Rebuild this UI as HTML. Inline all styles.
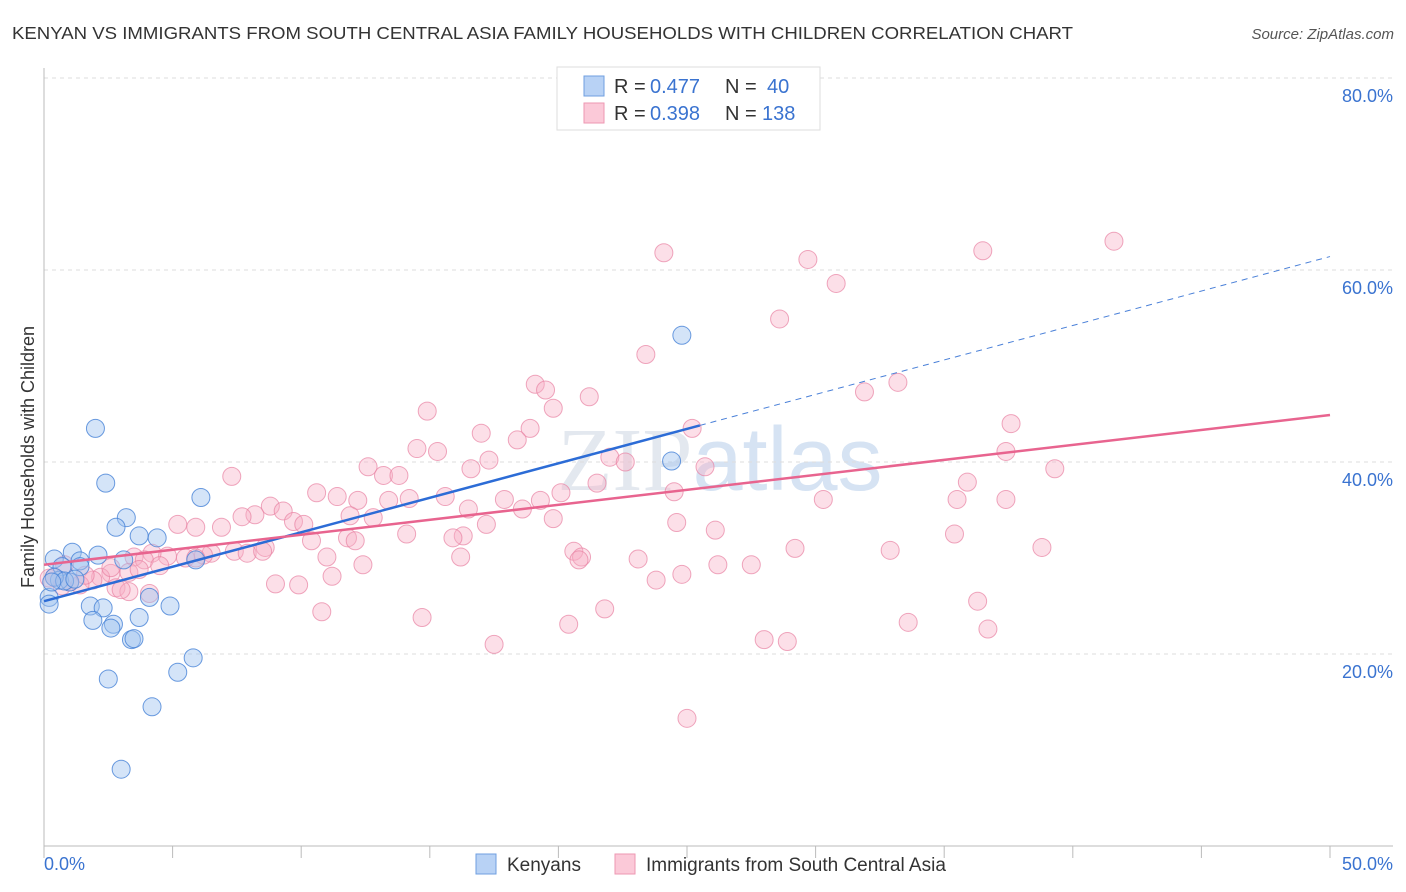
<!DOCTYPE html>
<html><head><meta charset="utf-8"><style>
body{margin:0;background:#fff;font-family:"Liberation Sans",sans-serif;}
svg{display:block}
</style></head><body>
<svg width="1406" height="892" viewBox="0 0 1406 892" xmlns="http://www.w3.org/2000/svg">
<text x="12" y="39" font-size="17.5" fill="#333" textLength="1061" lengthAdjust="spacingAndGlyphs">KENYAN VS IMMIGRANTS FROM SOUTH CENTRAL ASIA FAMILY HOUSEHOLDS WITH CHILDREN CORRELATION CHART</text>
<text x="1394" y="39" font-size="15" fill="#555" font-style="italic" text-anchor="end">Source: ZipAtlas.com</text>
<text x="720" y="490" font-size="90" fill="#e3e8ef" text-anchor="middle" font-family="Liberation Serif,serif">ZIP<tspan fill="#d6e3f3" font-family="Liberation Sans,sans-serif">atlas</tspan></text>
<g id="grid"></g>
<g id="axes"></g>
<g id="pts"></g>
<g id="lines"></g>
<text transform="translate(34,457) rotate(-90)" font-size="18" fill="#333" text-anchor="middle">Family Households with Children</text>
<g>
<rect x="557" y="67" width="263" height="63" fill="#fff" stroke="#ddd"/>
<rect x="584" y="76" width="20" height="20" fill="#b8d2f5" stroke="#6f9fe0"/>
<rect x="584" y="103" width="20" height="20" fill="#fbc9d8" stroke="#ee97b2"/>
<text x="614" y="93" font-size="20" fill="#333">R =</text>
<text x="650" y="93" font-size="20" fill="#3a73d0">0.477</text>
<text x="725" y="93" font-size="20" fill="#333">N =</text>
<text x="767" y="93" font-size="20" fill="#3a73d0">40</text>
<text x="614" y="120" font-size="20" fill="#333">R =</text>
<text x="650" y="120" font-size="20" fill="#3a73d0">0.398</text>
<text x="725" y="120" font-size="20" fill="#333">N =</text>
<text x="762" y="120" font-size="20" fill="#3a73d0">138</text>
</g>
<g>
<rect x="476" y="854" width="20" height="20" fill="#b8d2f5" stroke="#6f9fe0"/>
<text x="507" y="871" font-size="19" fill="#333">Kenyans</text>
<rect x="615" y="854" width="20" height="20" fill="#fbc9d8" stroke="#ee97b2"/>
<text x="646" y="871" font-size="19" fill="#333">Immigrants from South Central Asia</text>
</g>
</svg>
<script>
const xTicks=[0,5,10,15,20,25,30,35,40,45,50];
const yTicks=[20,40,60,80];
const yTickLabels=["20.0%","40.0%","60.0%","80.0%"];
const xEndLabels=["0.0%","50.0%"];
const blueX=[2.0,2.4,6.1,3.2,2.8,3.7,4.4,2.1,1.1,3.1,0.4,1.4,0.7,1.4,1.0,0.6,0.2,0.2,1.8,2.3,1.9,2.7,2.6,3.7,4.1,4.9,3.4,3.5,5.8,5.2,2.5,4.2,3.0,24.8,24.4,5.9,0.4,0.8,1.2,0.3];
const blueY=[43.5,37.8,36.3,34.2,33.2,32.3,32.1,30.3,30.6,29.8,29.9,29.7,29.1,29.1,27.5,27.7,25.9,25.2,25.0,24.8,23.5,23.1,22.7,23.8,25.9,25.0,21.5,21.6,19.6,18.1,17.4,14.5,8.0,53.2,40.1,29.8,28.0,27.6,27.8,27.5];
const pinkX=[24.1,29.7,36.5,41.6,30.8,28.6,23.4,19.1,19.5,33.2,31.9,21.2,19.8,14.9,37.6,17.0,18.9,18.4,14.5,15.3,37.4,25.2,22.0,22.6,25.7,39.3,17.3,16.6,12.6,13.2,13.8,7.3,35.9,21.5,24.5,10.6,11.4,15.6,20.1,12.2,13.4,14.2,17.9,19.3,8.8,9.3,8.2,7.7,6.9,5.9,5.2,9.7,10.1,11.9,12.8,17.2,16.5,18.6,19.8,30.3,35.5,37.4,24.6,26.1,16.3,15.9,14.1,11.8,12.1,10.4,8.6,7.4,6.5,6.2,5.5,4.8,4.2,3.5,3.9,5.9,7.9,8.5,11.0,16.2,20.6,20.9,29.2,32.9,35.4,38.8,26.2,20.8,23.1,27.5,12.4,11.2,24.8,23.8,9.0,9.9,3.3,3.7,4.5,2.6,2.2,1.9,1.4,0.7,2.8,3.3,4.1,10.8,14.7,21.8,20.4,33.6,36.3,36.7,28.0,28.9,17.5,25.0,0.4,1.0,1.6,2.6,3.0,0.8,0.2];
const pinkY=[61.8,61.1,62.0,63.0,58.6,54.9,51.2,48.1,47.5,48.3,47.3,46.8,45.6,45.3,44.0,43.0,43.5,42.3,41.4,41.1,41.1,43.5,40.5,40.0,39.5,39.3,40.2,39.3,39.5,38.6,38.6,38.5,37.9,37.8,36.9,36.8,36.4,36.4,36.8,36.0,36.0,36.2,36.1,36.0,35.4,34.9,34.5,34.3,33.2,33.2,33.5,33.8,33.5,34.4,34.2,33.5,35.1,35.1,34.1,36.1,36.1,36.1,33.7,32.9,32.3,32.1,32.5,32.1,31.8,31.8,31.1,30.7,30.5,30.3,30.0,30.2,30.5,30.1,29.8,30.0,30.5,30.7,30.1,30.1,30.7,30.1,31.0,30.8,32.5,31.1,29.3,29.8,29.9,29.3,29.3,28.1,28.3,27.7,27.3,27.2,28.5,28.8,29.2,28.4,28.0,27.7,27.2,27.1,26.9,26.5,26.3,24.4,23.8,24.7,23.1,23.3,25.5,22.6,21.5,21.3,21.0,13.3,28.0,27.5,28.2,29.0,26.7,29.3,27.9];
const blueTrend=[25.5,61.4];
const blueSolidEnd=25.5;
const pinkTrend=[29.3,44.9];
const X0=44,X1=1330,Y0=846,YPER=9.6;
const sx=v=>X0+(v/50)*(X1-X0);
const sy=v=>Y0-v*YPER;
const NS="http://www.w3.org/2000/svg";
function mk(p,t,a){const e=document.createElementNS(NS,t);for(const k in a)e.setAttribute(k,a[k]);p.appendChild(e);return e;}
const grid=document.getElementById('grid'),axes=document.getElementById('axes'),pts=document.getElementById('pts'),lines=document.getElementById('lines');
yTicks.forEach((t,i)=>{
 const g=mk(grid,'line',{x1:X0,x2:1393,y1:sy(t),y2:sy(t),stroke:'#ddd','stroke-dasharray':'4,4'});
 
 
 const l=mk(axes,'text',{x:1393,y:sy(t)+24,'font-size':18,fill:'#3a73d0','text-anchor':'end'});
 l.textContent=yTickLabels[i];
 
 
});
const ax=mk(axes,'line',{x1:X0,x2:X0,y1:68,y2:Y0,stroke:'#bbb'});


const bx=mk(axes,'line',{x1:X0,x2:1393,y1:Y0,y2:Y0,stroke:'#bbb'});


xTicks.forEach(t=>{
 const k=mk(axes,'line',{x1:sx(t),x2:sx(t),y1:Y0,y2:Y0+12,stroke:'#bbb'});
 
 
});
[[0,'start',44],[50,'end',1393]].forEach((d,i)=>{
 const l=mk(axes,'text',{x:d[2],y:870,'font-size':18,fill:'#3a73d0','text-anchor':d[1]});
 l.textContent=xEndLabels[i];
 
 
});
pinkX.forEach((x,i)=>{
 const c=mk(pts,'circle',{cx:sx(x),cy:sy(pinkY[i]),r:9,fill:'rgba(248,176,198,0.4)',stroke:'rgba(232,130,162,0.7)','stroke-width':1});
 
 
});
blueX.forEach((x,i)=>{
 const c=mk(pts,'circle',{cx:sx(x),cy:sy(blueY[i]),r:9,fill:'rgba(160,196,240,0.45)',stroke:'rgba(70,130,215,0.8)','stroke-width':1});
 
 
});
const by=x=>blueTrend[0]+(blueTrend[1]-blueTrend[0])*x/50;
const py=x=>pinkTrend[0]+(pinkTrend[1]-pinkTrend[0])*x/50;
const bd=mk(lines,'line',{x1:sx(blueSolidEnd),y1:sy(by(blueSolidEnd)),x2:sx(50),y2:sy(by(50)),stroke:'#4a80d8','stroke-width':1,'stroke-dasharray':'6,5'});


const bl=mk(lines,'line',{x1:sx(0),y1:sy(by(0)),x2:sx(blueSolidEnd),y2:sy(by(blueSolidEnd)),stroke:'#2c6cd6','stroke-width':2.5});


const pl=mk(lines,'line',{x1:sx(0),y1:sy(py(0)),x2:sx(50),y2:sy(py(50)),stroke:'#e8648f','stroke-width':2.5});


</script>
</body></html>
